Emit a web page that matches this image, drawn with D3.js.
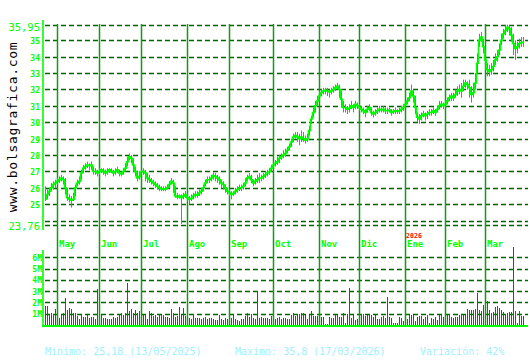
<!DOCTYPE html>
<html>
<head>
<meta charset="utf-8">
<script src="https://cdn.jsdelivr.net/npm/d3@7"></script>
<style>
  body { margin: 0; background: #fff; }
  svg { display: block; }
  text { font-family: "DejaVu Sans Mono", monospace; }
</style>
</head>
<body>
<svg id="chart" width="530" height="360"></svg>
<script>
// trading days: weekdays between these dates, minus the market holidays
const firstDay = "2025-04-23"
const lastDay = "2026-03-27"
const holidays = ["2025-05-01", "2026-01-01", "2026-01-06"]
const monthNames = ["Ene","Feb","Mar","Abr","May","Jun","Jul","Ago","Sep","Oct","Nov","Dic"]

// daily closes, Apr 2025 -> Mar 2026
const closes = [
  25.3,25.6,25.8,26.0,26.2,26.3,
  26.4,26.5,26.6,26.5,26.0,25.4,25.3,25.25,25.3,26.0,26.3,26.4,26.9,27.2,27.3,27.4,27.35,27.4,27.0,27.0,26.9,
  27.0,27.1,27.0,26.9,27.0,27.1,27.0,26.9,27.0,27.1,26.9,26.85,27.0,27.2,27.6,27.9,27.8,27.4,27.0,26.6,26.7,
  27.0,27.0,26.9,26.6,26.5,26.4,26.3,26.2,26.1,26.0,25.95,25.9,25.95,26.0,26.2,26.4,26.3,25.5,25.45,25.5,25.4,25.5,25.6,
  25.4,25.3,25.35,25.5,25.6,25.55,25.7,25.8,26.0,26.3,26.5,26.5,26.6,26.75,26.7,26.6,26.5,26.3,26.2,26.0,25.8,
  25.7,25.6,25.65,25.8,25.9,26.0,26.0,26.1,26.3,26.6,26.7,26.5,26.3,26.4,26.5,26.6,26.6,26.7,26.8,26.9,27.0,27.2,
  27.4,27.5,27.6,27.8,27.9,28.0,28.1,28.3,28.5,28.8,29.1,29.2,29.1,29.0,29.1,29.0,28.9,29.0,29.5,30.2,30.6,31.0,31.3,
  31.6,31.8,31.9,31.95,31.9,31.85,31.9,32.0,32.1,32.2,32.0,31.4,30.9,30.9,30.8,30.85,31.0,30.9,31.1,31.0,
  30.9,30.8,30.7,30.6,30.8,30.9,30.6,30.5,30.6,30.7,30.8,30.75,30.8,30.7,30.7,30.75,30.6,30.65,30.7,30.65,30.7,30.8,30.9,
  31.1,31.3,31.5,31.9,31.6,30.9,30.3,30.2,30.4,30.5,30.4,30.5,30.6,30.6,30.7,30.6,30.8,31.0,31.1,31.0,
  31.1,31.3,31.5,31.6,31.5,31.7,31.9,32.0,31.9,32.2,32.4,32.3,32.1,31.7,31.8,32.4,33.6,35.0,35.2,34.6,
  33.8,33.2,33.1,33.2,33.4,33.8,34.0,34.4,35.0,35.4,35.6,35.8,35.7,35.3,34.8,34.5,34.6,34.8,34.85,34.9
]
const highs = [
  26.1,25.9,26.0,26.3,26.4,26.5,
  26.6,26.7,26.8,26.7,26.6,26.0,25.6,25.5,25.7,26.2,26.5,26.7,27.1,27.4,27.5,27.6,27.5,27.6,27.3,27.2,27.1,
  27.2,27.2,27.2,27.1,27.2,27.2,27.2,27.1,27.2,27.3,27.1,27.0,27.2,27.5,27.9,28.1,28.0,27.8,27.3,27.0,27.0,
  27.1,27.2,27.1,26.9,26.8,26.6,26.5,26.4,26.3,26.2,26.1,26.1,26.1,26.2,26.4,26.6,26.5,26.1,25.7,25.6,25.6,25.7,25.8,
  25.6,25.5,25.6,25.7,25.8,25.8,25.9,26.0,26.2,26.5,26.7,26.7,26.8,26.95,26.9,26.8,26.7,26.5,26.4,26.2,26.0,
  25.9,25.8,25.8,26.0,26.1,26.2,26.2,26.3,26.6,26.8,26.9,26.8,26.5,26.6,26.8,26.9,26.8,26.9,27.0,27.1,27.2,27.4,
  27.6,27.7,27.9,28.0,28.1,28.3,28.4,28.5,28.7,29.0,29.3,29.4,29.4,29.3,29.5,29.4,29.2,29.3,29.8,30.4,30.9,31.3,31.6,
  31.9,32.0,32.1,32.1,32.1,32.0,32.1,32.2,32.3,32.4,32.3,31.9,31.3,31.1,31.0,31.1,31.3,31.1,31.3,31.2,
  31.1,31.0,30.9,30.8,31.0,31.1,30.9,30.7,30.8,30.9,31.0,30.9,31.0,30.9,30.9,30.9,30.8,30.8,30.9,30.8,30.9,31.0,31.1,
  31.3,31.5,31.8,32.3,32.0,31.6,30.6,30.5,30.6,30.7,30.6,30.7,30.8,30.8,30.9,30.8,31.0,31.3,31.3,31.2,
  31.3,31.5,31.7,31.8,31.8,32.0,32.2,32.3,32.4,32.6,32.6,32.5,32.6,32.2,32.4,33.0,34.2,35.4,35.5,35.1,
  34.4,33.6,33.5,33.6,33.8,34.2,34.4,34.8,35.4,35.7,35.9,35.95,35.9,35.8,35.4,35.0,34.9,35.1,35.2,35.2
]
const lows = [
  25.2,25.3,25.5,25.8,25.9,26.0,
  26.2,26.3,26.4,26.2,25.6,25.2,25.1,24.8,25.2,25.5,26.1,26.2,26.5,26.9,27.1,27.2,27.1,27.1,26.8,26.8,26.7,
  26.8,26.9,26.8,26.7,26.8,26.9,26.9,26.7,26.8,26.9,26.7,26.7,26.8,27.0,27.3,27.7,27.5,27.0,26.7,26.4,26.5,
  26.8,26.8,26.4,26.3,26.3,26.2,26.1,26.0,25.9,25.8,25.8,25.8,25.8,25.9,26.0,26.2,25.7,25.4,25.3,25.35,23.8,25.3,25.4,
  25.2,25.0,25.2,25.3,25.4,25.4,25.5,25.6,25.8,26.1,26.3,26.3,26.4,26.5,26.4,26.3,26.2,26.0,25.9,25.7,25.6,
  25.5,25.3,25.5,25.6,25.7,25.8,25.8,25.9,26.1,26.4,26.5,26.3,26.1,26.2,26.3,26.3,26.4,26.5,26.6,26.7,26.8,27.0,
  27.2,27.3,27.4,27.5,27.7,27.8,27.9,28.1,28.3,28.5,28.8,29.0,28.8,28.6,28.8,28.8,28.7,28.8,29.2,29.9,30.3,30.6,31.0,
  31.3,31.6,31.7,31.7,31.6,31.5,31.7,31.8,31.9,32.0,31.5,30.9,30.6,30.6,30.5,30.6,30.8,30.6,30.8,30.8,
  30.7,30.6,30.5,30.3,30.6,30.7,30.4,30.3,30.4,30.5,30.6,30.6,30.6,30.5,30.5,30.6,30.4,30.5,30.5,30.5,30.5,30.6,30.7,
  30.9,31.1,31.3,31.6,31.2,30.5,30.0,29.9,30.1,30.3,30.1,30.2,30.4,30.4,30.5,30.4,30.6,30.8,30.9,30.8,
  30.9,31.1,31.3,31.3,31.3,31.5,31.6,31.7,31.5,31.9,32.1,32.0,31.5,31.2,31.5,32.0,33.0,34.6,34.9,34.2,
  33.2,32.8,32.8,32.9,33.1,33.5,33.7,34.1,34.7,35.1,35.3,35.5,35.3,34.9,34.1,33.8,34.2,34.5,34.6,34.6
]
// volume in millions of shares
const volumes = [
  1.7,1.7,0.9,1.1,0.95,1.4,
  0.9,0.65,0.85,1.1,2.4,1.3,1.5,1.45,1.1,1.1,0.8,0.5,0.9,0.7,0.75,0.85,0.6,0.75,0.75,0.5,3.2,
  0.6,0.85,0.6,0.6,0.5,0.5,0.5,0.7,0.65,0.7,0.95,1.1,0.9,1.05,3.7,1.2,1.4,1.05,1.35,1.1,1.25,
  1.05,0.9,0.9,0.5,1.2,1.1,0.8,0.9,0.75,1.0,0.9,0.9,0.75,0.75,0.65,1.45,1.1,0.7,0.8,1.6,0.85,1.55,0.8,
  0.7,0.6,0.5,1.0,0.6,0.6,0.6,0.55,0.6,0.75,0.55,0.6,0.6,0.5,0.45,0.45,0.9,0.5,0.4,0.6,0.5,
  0.5,0.6,0.9,0.5,0.45,0.35,0.55,0.5,0.8,1.05,0.75,1.0,0.65,0.55,3.0,0.6,0.75,0.65,0.6,0.65,0.55,0.8,
  0.55,0.55,0.65,0.75,0.55,0.65,0.6,0.5,0.5,0.85,1.05,0.8,1.0,1.0,1.05,1.05,0.9,0.55,0.85,1.2,0.8,0.8,0.8,
  0.8,0.7,0.7,0.1,0.1,0.7,0.6,0.65,0.9,0.9,0.7,0.7,1.1,0.15,1.0,3.3,0.65,0.9,0.45,0.55,
  0.7,0.95,1.0,0.8,0.9,0.85,0.85,0.75,0.85,0.5,0.5,0.75,0.8,0.65,2.5,0.7,0.65,0.15,0.15,0.15,0.75,0.6,0.35,
  0.6,0.55,0.9,0.9,0.9,0.35,0.7,0.8,0.8,0.5,0.7,0.9,0.15,0.65,0.55,0.75,0.45,0.85,0.9,0.75,
  0.75,0.85,0.9,0.75,0.6,0.7,0.75,0.85,0.95,0.85,1.0,1.4,1.3,1.35,1.3,1.45,2.8,1.3,1.2,1.8,
  0.9,2.1,1.35,1.1,1.15,1.6,1.7,1.5,1.3,1.15,1.0,1.05,1.15,1.15,6.9,1.2,0.15,1.2,0.8,0.8
]
const priceTicks = [25,26,27,28,29,30,31,32,33,34,35]
const priceMin = 23.76
const priceMax = 35.95
const volumeTicks = [1,2,3,4,5,6]

const minText = "Minimo: 25,18 (13/05/2025)"
const maxText = "Maximo: 35,8 (17/03/2026)"
const varText = "Variación: 42%"

// build the list of trading days
function tradingDays(a, b) {
  const out = []
  let d = new Date(a + "T00:00:00Z")
  const end = new Date(b + "T00:00:00Z")
  while (d <= end) {
    const wd = d.getUTCDay()
    const iso = d.toISOString().slice(0, 10)
    if (wd != 0 && wd != 6 && holidays.indexOf(iso) < 0) out.push(new Date(d))
    d = new Date(d.getTime() + 86400000)
  }
  return out
}
const days = tradingDays(firstDay, lastDay)

const svg = d3.select("#chart")
const green = "#00ff00"
const gridGreen = "#006400"
const monthGreen = "#109a10"

const x = d3.scaleLinear().domain([0, days.length - 1]).range([45, 45 + 2 * (days.length - 1)])
const y = d3.scaleLinear().domain([priceMin, priceMax]).range([224.6, 24.7])
const yv = d3.scaleLinear().domain([0, 6]).range([325, 257.3])
const right = 528

// month boundaries (first trading day of each month)
const monthStarts = []
days.forEach((d, i) => {
  if (i > 0 && d.getUTCMonth() != days[i - 1].getUTCMonth()) monthStarts.push({i: i, date: d})
})

// price grid
const priceGrid = [priceMin, 24].concat(priceTicks, [priceMax])
svg.append("g").selectAll("line")
  .data(priceGrid)
  .join("line")
  .attr("x1", 45).attr("x2", right)
  .attr("y1", d => Math.round(y(d)) + 0.5).attr("y2", d => Math.round(y(d)) + 0.5)
  .attr("stroke", gridGreen).attr("stroke-width", 1.5)
  .attr("stroke-dasharray", "5,3")

// volume grid
svg.append("g").selectAll("line")
  .data(volumeTicks)
  .join("line")
  .attr("x1", 45).attr("x2", right)
  .attr("y1", d => Math.round(yv(d)) + 0.5).attr("y2", d => Math.round(yv(d)) + 0.5)
  .attr("stroke", gridGreen).attr("stroke-width", 1.5)
  .attr("stroke-dasharray", "5,3")

// volume bars (drawn under the month lines)
svg.append("g").selectAll("rect")
  .data(volumes)
  .join("rect")
  .attr("x", (d, i) => x(i))
  .attr("width", 1)
  .attr("y", d => Math.round(yv(d)))
  .attr("height", d => 325 - Math.round(yv(d)))
  .attr("fill", "#ff0000")
  .attr("shape-rendering", "crispEdges")

// month lines
svg.append("g").selectAll("line")
  .data(monthStarts)
  .join("line")
  .attr("x1", d => x(d.i) + 0.5).attr("x2", d => x(d.i) + 0.5)
  .attr("y1", 24).attr("y2", 325)
  .attr("stroke", monthGreen).attr("stroke-width", 1.5)

svg.append("g").selectAll("text")
  .data(monthStarts)
  .join("text")
  .attr("x", d => x(d.i) + 2)
  .attr("y", 247)
  .attr("fill", green)
  .attr("font-size", 9)
  .attr("font-weight", "bold")
  .text(d => monthNames[d.date.getUTCMonth()])

// year marker above January
svg.append("g").selectAll("text")
  .data(monthStarts.filter(d => d.date.getUTCMonth() == 0))
  .join("text")
  .attr("x", d => x(d.i) + 1)
  .attr("y", 237.5)
  .attr("fill", "#ff0000")
  .attr("font-size", 6.6)
  .attr("font-weight", "bold")
  .text(d => d.date.getUTCFullYear())

// high-low bars
svg.append("g").selectAll("line")
  .data(closes)
  .join("line")
  .attr("x1", (d, i) => x(i) + 0.5).attr("x2", (d, i) => x(i) + 0.5)
  .attr("y1", (d, i) => y(highs[i])).attr("y2", (d, i) => y(lows[i]))
  .attr("stroke", "#20a0b4").attr("stroke-width", 1)

// close line
const line = d3.line()
  .x((d, i) => x(i) + 0.5)
  .y(d => y(d))
  .curve(d3.curveStep)
svg.append("path")
  .datum(closes)
  .attr("d", line)
  .attr("fill", "none")
  .attr("stroke", green)
  .attr("stroke-width", 1.5)

// axes
svg.append("line").attr("x1", 43).attr("x2", 43).attr("y1", 20).attr("y2", 230)
  .attr("stroke", green).attr("stroke-width", 1.6)
svg.append("line").attr("x1", 43).attr("x2", 43).attr("y1", 250).attr("y2", 327)
  .attr("stroke", green).attr("stroke-width", 1.6)
svg.append("line").attr("x1", 42).attr("x2", right).attr("y1", 326).attr("y2", 326)
  .attr("stroke", green).attr("stroke-width", 2)

// price labels
svg.append("g").selectAll("text")
  .data(priceTicks)
  .join("text")
  .attr("x", 40).attr("y", d => y(d) + 4)
  .attr("text-anchor", "end")
  .attr("fill", green)
  .attr("font-size", 8)
  .attr("font-weight", "bold")
  .text(d => d)

svg.append("g").selectAll("text")
  .data([priceMax, priceMin])
  .join("text")
  .attr("x", 40).attr("y", d => y(d) + 5.8)
  .attr("text-anchor", "end")
  .attr("fill", green)
  .attr("font-size", 10.5)
  .text(d => String(d).replace(".", ","))

// volume labels
svg.append("g").selectAll("text")
  .data(volumeTicks)
  .join("text")
  .attr("x", 42).attr("y", d => yv(d) + 3.5)
  .attr("text-anchor", "end")
  .attr("fill", green)
  .attr("font-size", 8)
  .attr("font-weight", "bold")
  .text(d => d + "M")

// watermark
svg.append("text")
  .attr("transform", "translate(17,127) rotate(-90)")
  .attr("text-anchor", "middle")
  .attr("font-size", 13)
  .attr("letter-spacing", 0.7)
  .attr("fill", "#000")
  .text("www.bolsagrafica.com")

// footer
const footer = [{t: minText, x: 45}, {t: maxText, x: 235}, {t: varText, x: 420}]
svg.append("g").selectAll("text")
  .data(footer)
  .join("text")
  .attr("x", d => d.x).attr("y", 355)
  .attr("fill", "#a0f0ff")
  .attr("font-size", 10)
  .text(d => d.t)
</script>
</body>
</html>
